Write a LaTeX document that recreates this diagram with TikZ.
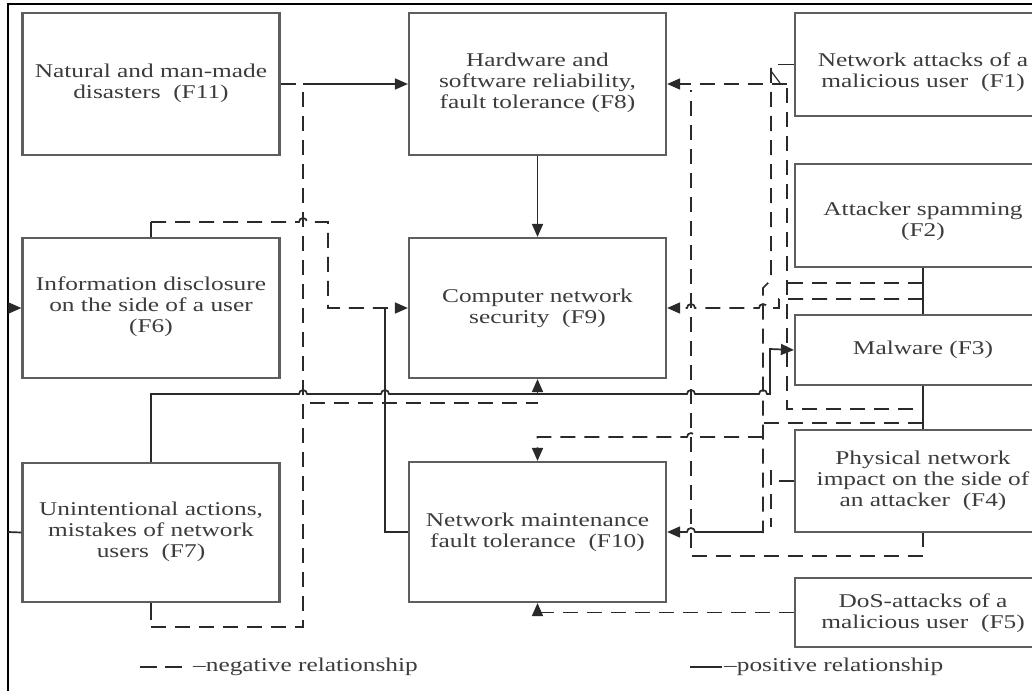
\documentclass[tikz,border=0pt]{standalone}
\usepackage{fontspec}
\setmainfont{Liberation Serif}[FakeStretch=1.3]
\usetikzlibrary{arrows.meta}
\definecolor{boxc}{HTML}{5E5E5E}
\definecolor{linec}{HTML}{2A2A2A}
\definecolor{txtc}{HTML}{3C3C3C}
\newcommand{\jr}[2]{-- (#1-4,#2) arc[start angle=180,end angle=360,radius=4]}
\newcommand{\jl}[2]{-- (#1+4,#2) arc[start angle=0,end angle=-180,radius=4]}
\tikzset{
  box/.style={draw=boxc, line width=2.2pt, rectangle, inner sep=0pt, minimum width=257pt},
  txt/.style={align=center, font=\fontsize{19.5}{21}\selectfont, text=txtc, inner sep=0pt},
  plink/.style={draw=linec, line width=1.7pt},
  nlink/.style={draw=linec, line width=1.7pt, dash pattern=on 15pt off 9pt},
  arrowend/.style={-{Triangle[length=13pt,width=11pt]}},
  frame/.style={draw=black, line width=2.6pt}
}
\begin{document}
\begin{tikzpicture}[x=1pt,y=-1pt]
\useasboundingbox (0,0) rectangle (1032,690);
\fill[white] (0,0) rectangle (1032,690);
\draw[frame] (8,700) -- (8,4) -- (1040,4);

% boxes
\node[box, minimum height=142pt] (F11) at (151,84) {};
\node[box, minimum height=142pt] (F8) at (537.5,84) {};
\node[box, minimum height=140pt] (F6) at (151,308) {};
\node[box, minimum height=140pt] (F9) at (537.5,308) {};
\node[box, minimum height=139pt] (F7) at (151,532.5) {};
\node[box, minimum height=140pt] (F10) at (537.5,532) {};
\node[box, minimum width=256pt, minimum height=103pt] (F1) at (923,64.5) {};
\node[box, minimum width=256pt, minimum height=103pt] (F2) at (923,215.5) {};
\node[box, minimum width=256pt, minimum height=70pt] (F3) at (923,350) {};
\node[box, minimum width=256pt, minimum height=102pt] (F4) at (923,481) {};
\node[box, minimum width=256pt, minimum height=69pt] (F5) at (923,612.5) {};

% texts
\node[txt] (F11t) at (151,83) {Natural and man-made\\disasters \ (F11)};
\node[txt] (F8t) at (537.5,83) {Hardware and\\software reliability,\\fault tolerance (F8)};
\node[txt] (F6t) at (151,306.5) {Information disclosure\\on the side of a user\\(F6)};
\node[txt] (F9t) at (537.5,308) {Computer network\\security \ (F9)};
\node[txt] (F7t) at (151,531.5) {Unintentional actions,\\mistakes of network\\users \ (F7)};
\node[txt] (F10t) at (537.5,532) {Network maintenance\\fault tolerance \ (F10)};
\node[txt] (F1t) at (923,72) {Network attacks of a\\malicious user \ (F1)};
\node[txt] (F2t) at (923,221) {Attacker spamming\\(F2)};
\node[txt] (F3t) at (923,350) {Malware (F3)};
\node[txt] (F4t) at (923,481) {Physical network\\impact on the side of\\an attacker \ (F4)};
\node[txt] (F5t) at (923,613) {DoS-attacks of a\\malicious user \ (F5)};

% F11 -> F8 and F7 -> F8
\draw[nlink] (F11.east) -- (303,84);
\draw[plink,arrowend] (303,84) -- (F8.west);
\draw[plink] (F7.south) -- (151,620);
\draw[nlink] (151,627) -- (303,627) -- (303,90);

% F6 -> F9
\draw[plink] (F6.north) -- (151,222);
\draw[nlink,arrowend] (151,222) \jr{303}{222} -- (328,222) -- (328,308) -- (F9.west);
% F10 -> F9
\draw[plink] (F10.west) -- (385,532) -- (385,308);

% F7 -> F9 / F3
\draw[plink,arrowend] (F7.north) -- (151,394) \jr{303}{394} \jr{385}{394} \jr{691}{394} \jr{763}{394} -- (770,394) -- (770,349) -- (F3.west);
\draw[plink,arrowend] (537.5,394) -- (F9.south);
\draw[nlink] (310,403) -- (537.5,403);

% F8 -> F9
\draw[plink,arrowend] (F8.south) -- (F9.north);

% F1 -> F8
\draw[plink] (F1.west) -- (778,64.5);
\draw[plink, line width=1.2pt] (771,71) -- (780,83);
\draw[nlink,arrowend] (787,84) -- (F8.east);
\draw[nlink] (787,88) -- (787,409) -- (923,409);
\draw[nlink] (771,68) -- (771,280) -- (763,288) -- (763,533);

% F2, F3 stubs
\draw[plink] (F2.south) -- (F3.north);
\draw[nlink] (923,283) -- (787,283);
\draw[nlink,arrowend] (923,299) -- (779,299) -- (779,308) \jl{763}{308} \jl{691}{308} -- (F9.east);

% F3 / F4 stubs
\draw[plink] (F3.south) -- (F4.north);
\draw[nlink] (923,423) -- (763,423);
\draw[nlink,arrowend] (763,437) \jl{691}{437} -- (537.5,437) -- (F10.north);
\draw[plink,arrowend] (763,532) \jl{691}{532} -- (F10.east);
\draw[plink] (F4.west) -- (779,481);
\draw[nlink] (771,470) -- (771,527);
\draw[plink] (F4.south) -- (923,547);
\draw[nlink] (923,556) -- (691,556) -- (691,90);

% F5 -> F10
\draw[nlink,arrowend] (F5.west) -- (537.5,612.5) -- (F10.south);

% F7 -> F6 along the left edge
\draw[plink] (F7.west) -- (8,532);
\draw[plink,arrowend] (8,308) -- (F6.west);

% legend
\draw[nlink, dash pattern=on 17pt off 8pt] (140,667) -- (182,667);
\node[txt, anchor=west] (negl) at (193,667) {–negative relationship};
\draw[plink] (690,667) -- (722,667);
\node[txt, anchor=west] (posl) at (724,667) {–positive relationship};
\end{tikzpicture}
\end{document}
